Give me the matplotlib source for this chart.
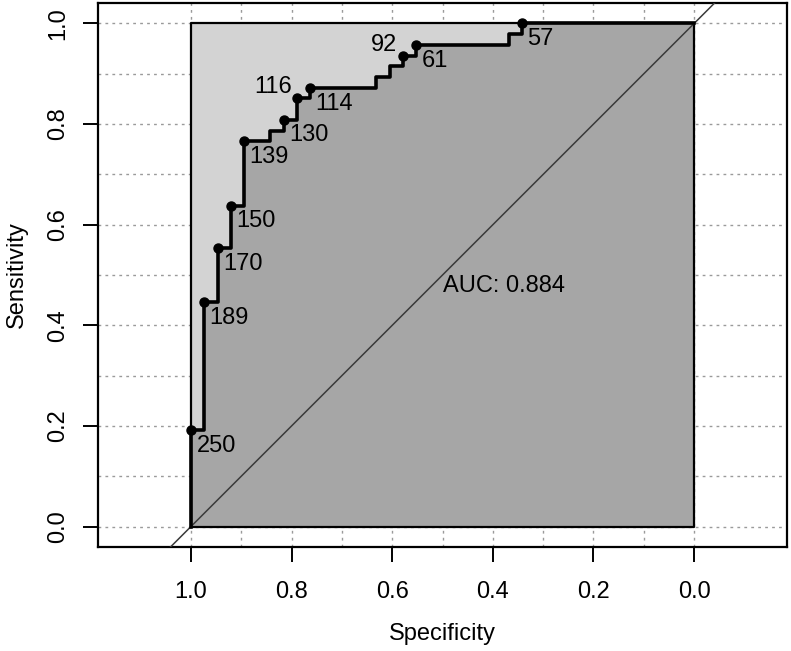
import numpy as np
import matplotlib
matplotlib.use("Agg")
import matplotlib.pyplot as plt

plt.rcParams['font.family'] = ['Liberation Sans', 'DejaVu Sans']

# ROC corners (specificity, sensitivity)
roc_spec = [1.000, 1.000, 0.974, 0.974, 0.947, 0.947, 0.921, 0.921, 0.895, 0.895,
            0.842, 0.842, 0.816, 0.816, 0.789, 0.789, 0.763, 0.763, 0.632, 0.632,
            0.605, 0.605, 0.579, 0.579, 0.553, 0.553, 0.368, 0.368, 0.342, 0.342, 0.000]
roc_sens = [0.000, 0.191, 0.191, 0.447, 0.447, 0.553, 0.553, 0.638, 0.638, 0.766,
            0.766, 0.787, 0.787, 0.809, 0.809, 0.851, 0.851, 0.872, 0.872, 0.894,
            0.894, 0.915, 0.915, 0.936, 0.936, 0.957, 0.957, 0.979, 0.979, 1.000, 1.000]

# printed thresholds
thr_labels = ['250', '189', '170', '150', '139', '130', '116', '114', '92', '61', '57']
thr_spec = [1.000, 0.974, 0.947, 0.921, 0.895, 0.816, 0.789, 0.763, 0.579, 0.553, 0.342]
thr_sens = [0.191, 0.447, 0.553, 0.638, 0.766, 0.809, 0.851, 0.872, 0.936, 0.957, 1.000]
auc_value = 0.884

x_ticks = [1.0, 0.8, 0.6, 0.4, 0.2, 0.0]
y_ticks = [0.0, 0.2, 0.4, 0.6, 0.8, 1.0]

fig = plt.figure(figsize=(7.91, 6.51), dpi=100)
ax = fig.add_axes([0.1243, 0.1602, 0.8703, 0.8347])
ax.set_xlim(1.184, -0.184)
ax.set_ylim(-0.04, 1.04)

# dotted grid
for g in np.arange(0, 1.01, 0.1):
    ax.axvline(g, color='#9A9A9A', lw=1, ls=(0, (2, 3)), zorder=0)
    ax.axhline(g, color='#9A9A9A', lw=1, ls=(0, (2, 3)), zorder=0)

# max auc polygon (light) and auc polygon (dark)
ax.fill([1, 0, 0, 1], [0, 0, 1, 1], facecolor='#D3D3D3', edgecolor='none', zorder=1)
ax.fill(roc_spec + [0, 1], roc_sens + [0, 0], facecolor='#A6A6A6', edgecolor='none', zorder=2)
ax.plot([1, 0, 0, 1, 1], [0, 0, 1, 1, 0], color='black', lw=1.6, zorder=3)

# identity line
ax.plot([1.3, -0.3], [-0.3, 1.3], color='#3A3A3A', lw=1.1, zorder=4)

ax.plot(roc_spec, roc_sens, color='black', lw=2.6, zorder=5)
ax.plot(thr_spec, thr_sens, 'o', color='black', ms=6.5, zorder=6)

flipped = {'116', '92'}
for lab, sx, sy in zip(thr_labels, thr_spec, thr_sens):
    if lab in flipped:
        ax.annotate(lab, (sx, sy), xytext=(-4, 0), textcoords='offset points',
                    ha='right', va='bottom', fontsize=17, zorder=7)
    else:
        ax.annotate(lab, (sx, sy), xytext=(4, -3.5), textcoords='offset points',
                    ha='left', va='top', fontsize=17, zorder=7)

ax.text(0.5, 0.5, 'AUC: %.3f' % auc_value, ha='left', va='top', fontsize=17, zorder=7)

ax.set_xticks(x_ticks)
ax.set_xticklabels(['%.1f' % v for v in x_ticks])
ax.set_yticks(y_ticks)
ax.set_yticklabels(['%.1f' % v for v in y_ticks], rotation=90, va='center')
ax.tick_params(axis='both', length=11, width=1.4, labelsize=17)
ax.tick_params(axis='x', pad=14)
ax.tick_params(axis='y', pad=10)
for s in ax.spines.values():
    s.set_linewidth(1.6)

ax.set_xlabel('Specificity', fontsize=17, labelpad=14)
ax.set_ylabel('Sensitivity', fontsize=17, labelpad=14)

fig.savefig('out.png', dpi=100)
